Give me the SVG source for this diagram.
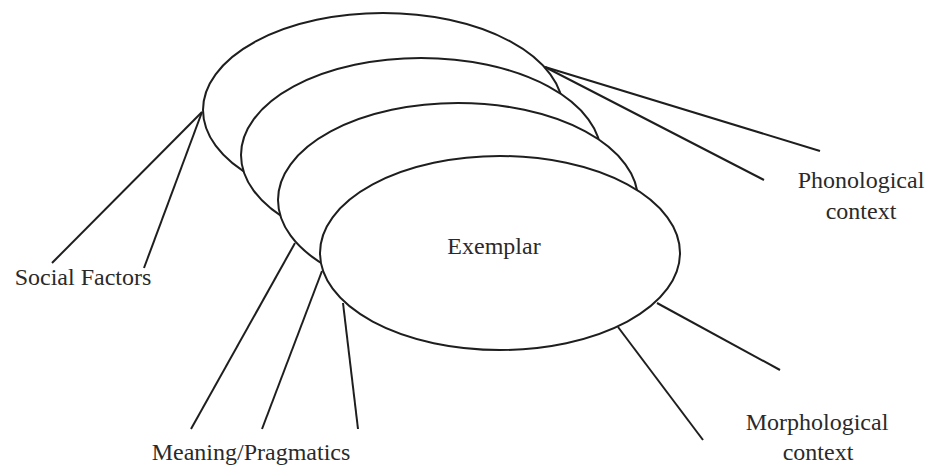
<svg xmlns="http://www.w3.org/2000/svg" width="928" height="466" viewBox="0 0 928 466">
<style>
.e{fill:#fff;stroke:#1e1e1e;stroke-width:2}
.c line{stroke:#1e1e1e;stroke-width:2;stroke-linecap:butt}
text{font-family:"Liberation Serif","Times New Roman",serif;font-size:24px;fill:#2a2a2a;text-anchor:middle}
</style>
<rect width="928" height="466" fill="#fff"/>
<g id="layer1"><ellipse class="e" cx="383" cy="110" rx="180" ry="97"/></g>
<g id="layer2"><ellipse class="e" cx="421" cy="155" rx="180" ry="97"/></g>
<g id="layer3"><ellipse class="e" cx="458" cy="200" rx="180" ry="97"/></g>
<g id="exemplar"><ellipse class="e" cx="500" cy="253" rx="180" ry="97"/><text x="494" y="254">Exemplar</text></g>
<g id="connectors" class="c">
<line x1="202" y1="112" x2="52" y2="263"/>
<line x1="202" y1="112" x2="144" y2="268"/>
<line x1="295" y1="243" x2="191" y2="429"/>
<line x1="322" y1="271" x2="262" y2="429"/>
<line x1="343" y1="303" x2="358" y2="429"/>
<line x1="545" y1="67" x2="820" y2="151"/>
<line x1="545" y1="67" x2="764" y2="180"/>
<line x1="657" y1="303" x2="780" y2="370"/>
<line x1="618" y1="327" x2="703" y2="440"/>
</g>
<g id="social"><text x="83" y="285">Social Factors</text></g>
<g id="meaning"><text x="251" y="460">Meaning/Pragmatics</text></g>
<g id="phonological"><text x="861" y="188">Phonological</text><text x="861" y="219">context</text></g>
<g id="morphological"><text x="817" y="430">Morphological</text><text x="818" y="460">context</text></g>
</svg>
